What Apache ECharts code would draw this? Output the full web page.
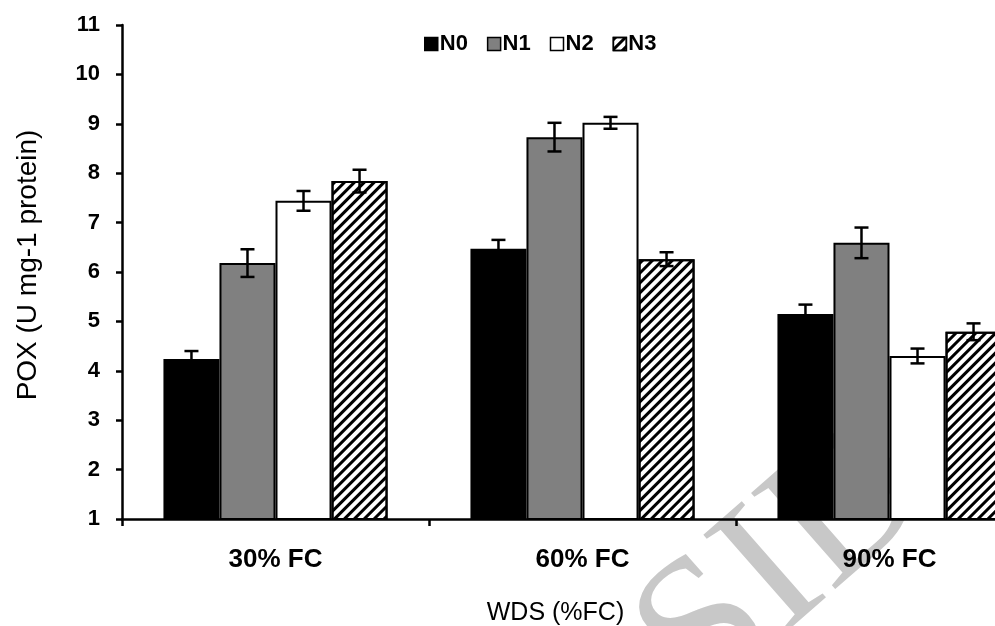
<!DOCTYPE html>
<html>
<head>
<meta charset="utf-8">
<script src="https://cdn.jsdelivr.net/npm/echarts@6/dist/echarts.min.js"></script>
<style>
  html, body { margin: 0; padding: 0; background: #fff; }
  #chart { width: 995px; height: 626px; }
</style>
</head>
<body>
<div id="chart"></div>
<script>
// valeurs (POX, U mg-1 protein)
const categories = ['30% FC', '60% FC', '90% FC'];
const seriesNames = ['N0', 'N1', 'N2', 'N3'];
const n0 = [4.24, 6.47, 5.15];
const n1 = [6.18, 8.73, 6.59];
const n2 = [7.44, 9.02, 4.30];
const n3 = [7.84, 6.26, 4.79];
const n0Err = [0.16, 0.18, 0.19];
const n1Err = [0.28, 0.29, 0.31];
const n2Err = [0.20, 0.12, 0.15];
const n3Err = [0.23, 0.14, 0.17];
const yTicks = [1, 2, 3, 4, 5, 6, 7, 8, 9, 10, 11];

const values = [n0, n1, n2, n3];
const errs = [n0Err, n1Err, n2Err, n3Err];
const CAT_GAP = 0.27;

const hatch = {
  symbol: 'rect', symbolSize: 1,
  dashArrayX: [1, 0], dashArrayY: [2.2, 3.8],
  rotation: -Math.PI / 4, color: '#000'
};
const fills = [
  { color: '#000' },
  { color: '#808080' },
  { color: '#fff' },
  { color: '#fff', decal: hatch },
];

const barSeries = seriesNames.map((name, i) => ({
  name,
  type: 'bar',
  barGap: '0%',
  barCategoryGap: (CAT_GAP * 100) + '%',
  itemStyle: { ...fills[i], borderColor: '#000', borderWidth: 2 },
  data: values[i],
}));

// barres d'erreur : même décalage que les barres groupées
const errData = [];
values.forEach((vals, si) => vals.forEach((v, ci) => errData.push([ci, v, errs[si][ci], si])));

const errSeries = {
  type: 'custom',
  z: 5,
  data: errData,
  renderItem: (params, api) => {
    const ci = api.value(0), v = api.value(1), e = api.value(2), si = api.value(3);
    const band = api.size([1, 0])[0];
    const barW = band * (1 - CAT_GAP) / 4;
    const x = api.coord([ci, v])[0] + (si - 1.5) * barW;
    const hi = api.coord([ci, v + e])[1];
    const lo = api.coord([ci, v - e])[1];
    const cap = 7;
    const style = { stroke: '#000', lineWidth: 2.5 };
    return {
      type: 'group',
      children: [
        { type: 'line', shape: { x1: x, y1: hi, x2: x, y2: lo }, style },
        { type: 'line', shape: { x1: x - cap, y1: hi, x2: x + cap, y2: hi }, style },
        { type: 'line', shape: { x1: x - cap, y1: lo, x2: x + cap, y2: lo }, style },
      ],
    };
  },
};

const chart = echarts.init(document.getElementById('chart'), null, { renderer: 'canvas' });
chart.setOption({
  animation: false,
  backgroundColor: '#fff',
  textStyle: { fontFamily: 'Liberation Sans, Arial, sans-serif', color: '#000' },
  // la 3e catégorie déborde à droite de l'image, comme sur l'original
  grid: { left: 122, top: 25, bottom: 107, width: 921, containLabel: false, outerBoundsMode: 'none' },
  legend: {
    data: seriesNames,
    left: 419, top: 28,
    icon: 'rect', itemWidth: 13, itemHeight: 13, itemGap: 19,
    textStyle: { fontSize: 22, fontWeight: 'bold', color: '#000', padding: [0, 0, 0, -3] },
    itemStyle: { borderColor: '#000', borderWidth: 1.5 },
  },
  xAxis: {
    type: 'category',
    data: categories,
    name: 'WDS (%FC)',
    nameLocation: 'middle',
    nameGap: 82,
    nameTextStyle: { fontSize: 25, color: '#000', padding: [0, 54, 0, 0] },
    axisLine: { lineStyle: { color: '#000', width: 2.5 } },
    axisTick: { show: true, length: 7, interval: 0, lineStyle: { color: '#000', width: 2.5 } },
    axisLabel: { fontSize: 26, fontWeight: 'bold', color: '#000', margin: 28 },
    splitLine: { show: false },
  },
  yAxis: {
    type: 'value',
    min: yTicks[0], max: yTicks[yTicks.length - 1], interval: 1,
    name: 'POX (U mg-1 protein)',
    nameLocation: 'middle',
    nameRotate: 90,
    nameGap: 80,
    nameTextStyle: { fontSize: 28, color: '#000', padding: [0, 0, 0, 14] },
    axisLine: { show: true, lineStyle: { color: '#000', width: 2.5 } },
    axisTick: { show: true, length: 6, lineStyle: { color: '#000', width: 2.5 } },
    axisLabel: { fontSize: 22, fontWeight: 'bold', color: '#000', margin: 22 },
    splitLine: { show: false },
  },
  graphic: [{
    type: 'text',
    z: 0,
    x: 785, y: 565,
    rotation: 0.72,
    style: {
      text: 'SID',
      font: '195px "Liberation Serif", serif',
      fill: '#c8c8c8',
      align: 'center',
      verticalAlign: 'middle',
    },
  }],
  series: [...barSeries, errSeries],
});
</script>
</body>
</html>
